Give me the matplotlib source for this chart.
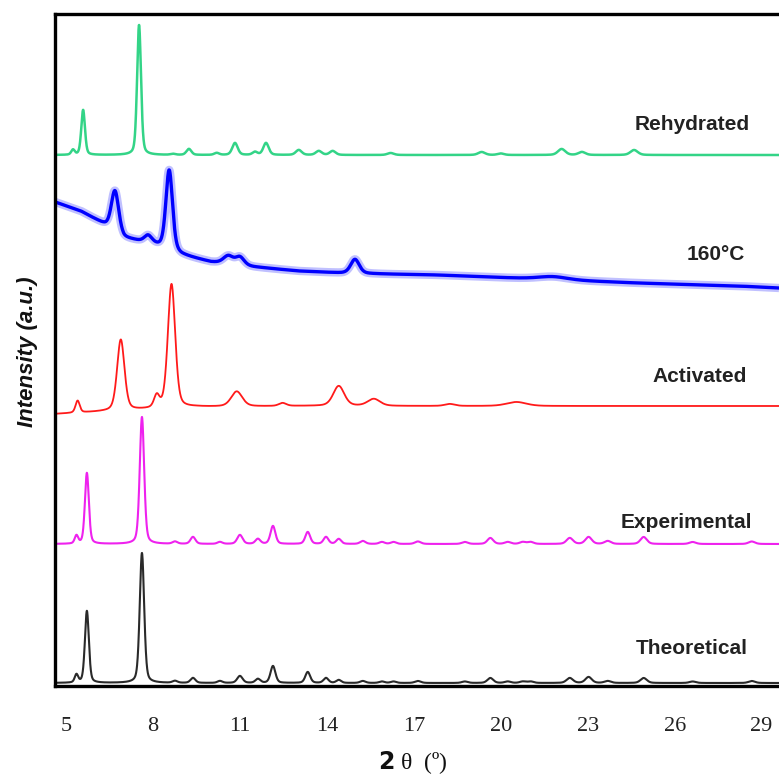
import numpy as np
import matplotlib
matplotlib.use("Agg")
import matplotlib.pyplot as plt

# 2-theta window (degrees)
x_min, x_max = 4.62, 29.6
x_ticks = [5, 8, 11, 14, 17, 20, 23, 26, 29]

# simulated pattern (peak positions, heights, widths) - experimental uses same reflections
theo_pos = [5.36, 5.72, 7.62, 8.76, 9.38, 10.31, 11.0, 11.62, 12.14, 13.34, 13.97, 14.41,
            15.24, 15.9, 16.3, 17.14, 18.76, 19.64, 20.24, 20.76, 21.03, 22.38, 23.03,
            23.69, 24.93, 26.62, 28.66]
theo_h = [8, 72, 130, 2, 5, 2, 7, 4, 17, 11, 5, 3,
          2, 1.5, 1.5, 2, 1.5, 5, 1.5, 1.5, 1.5, 5, 6,
          2, 5, 1.5, 2]
exp_h = [8, 71, 127, 2.3, 7, 2, 9, 5, 18, 12, 7, 5,
         3, 2, 2, 2.5, 2, 6, 2, 2, 2, 6, 7,
         3, 7, 2, 2.5]
theo_w = [0.14, 0.16, 0.18, 0.2, 0.2, 0.2, 0.22, 0.2, 0.2, 0.2, 0.2, 0.2,
          0.22, 0.22, 0.22, 0.24, 0.24, 0.24, 0.24, 0.24, 0.24, 0.26, 0.26,
          0.26, 0.26, 0.26, 0.26]
theo_base = 3
exp_base = 142

# activated sample
act_pos = [5.4, 6.89, 8.13, 8.64, 10.89, 12.47, 14.41, 15.62, 18.24, 20.54]
act_h = [12, 71, 12, 124, 15, 3, 20, 7, 2, 4]
act_w = [0.17, 0.3, 0.22, 0.3, 0.45, 0.3, 0.45, 0.5, 0.4, 0.8]
act_bg_x = [4.62, 6.0, 7.5, 9.5, 13.0, 16.0, 19.0, 22.0, 29.6]
act_bg_y = [272, 274, 276, 279, 280, 280, 280, 280, 280]

# heated at 160 C
hot_pos = [6.69, 7.83, 8.56, 10.6, 11.0, 14.97, 21.8]
hot_h = [41, 7, 80, 8, 8, 14, 3]
hot_w = [0.3, 0.3, 0.27, 0.4, 0.35, 0.35, 1.2]
hot_bg_x = [4.62, 5.5, 6.3, 7.0, 8.0, 9.0, 10.0, 11.5, 13.0, 14.5, 16.0, 17.8, 21.3, 24.7, 28.2, 29.6]
hot_bg_y = [484, 475, 462, 448, 442, 431, 424, 419, 415, 413, 412, 411, 407, 403, 400, 398]

# rehydrated sample
rehy_pos = [5.24, 5.59, 7.52, 8.69, 9.24, 10.2, 10.83, 11.52, 11.9, 13.03, 13.72, 14.2,
            16.2, 19.34, 20.0, 22.1, 22.8, 24.6]
rehy_h = [5, 45, 130, 1, 6, 2, 12, 3, 12, 5, 4, 4, 2, 3, 1.5, 6, 3, 5]
rehy_w = [0.14, 0.15, 0.16, 0.2, 0.2, 0.2, 0.22, 0.2, 0.22, 0.24, 0.24, 0.24,
          0.26, 0.28, 0.26, 0.3, 0.28, 0.3]
rehy_base = 531

labels = ["Rehydrated", "160°C", "Activated", "Experimental", "Theoretical"]
label_x = [28.59, 28.41, 28.48, 28.66, 28.52]
label_y = [561, 431, 310, 163, 37]


def pattern(x, pos, h, w, eta=0.35):
    y = np.zeros_like(x)
    for c, a, fw in zip(pos, h, w):
        d = 4 * (x - c) ** 2 / fw ** 2
        y += a * (eta / (1 + d) + (1 - eta) * np.exp(-np.log(2) * d))
    return y


x = np.linspace(x_min, x_max, 6000)

fig = plt.figure(figsize=(7.79, 7.81), dpi=100)
ax = fig.add_axes([55 / 779, 95 / 781, 1 - 55 / 779, 672 / 781])

ax.plot(x, theo_base + pattern(x, theo_pos, theo_h, theo_w), color="#2a2a2a", lw=1.5)
ax.plot(x, exp_base + pattern(x, theo_pos, exp_h, theo_w), color="#ee22ee", lw=1.5)
ax.plot(x, np.interp(x, act_bg_x, act_bg_y) + pattern(x, act_pos, act_h, act_w),
        color="#ff1a1a", lw=1.3)
hot = np.interp(x, hot_bg_x, hot_bg_y) + pattern(x, hot_pos, hot_h, hot_w)
ax.plot(x, hot, color="#3030ff", lw=6, alpha=0.3, solid_capstyle="butt")
ax.plot(x, hot, color="#0000ff", lw=2.4)
ax.plot(x, rehy_base + pattern(x, rehy_pos, rehy_h, rehy_w), color="#33d487", lw=1.8)

for t, lx, ly in zip(labels, label_x, label_y):
    ax.text(lx, ly, t, ha="right", va="center", fontsize=15, fontweight="bold",
            family="Liberation Sans", color="#222222")

ax.set_xlim(x_min, x_max)
ax.set_ylim(0, 672)
ax.set_xticks(x_ticks)
ax.set_xticklabels([str(v) for v in x_ticks], family="Liberation Serif", fontsize=16,
                   color="#222222")
ax.tick_params(axis="x", length=0, pad=22)
ax.set_yticks([])
for s in ["left", "top", "bottom"]:
    ax.spines[s].set_linewidth(2.4)
ax.spines["right"].set_visible(False)

fig.text(28 / 779, 1 - 352 / 781, "Intensity (a.u.)", rotation=90, ha="center", va="center",
         fontsize=16, fontstyle="italic", fontweight="bold", family="Liberation Sans",
         color="#111111")
fig.text(413 / 779, 1 - 763 / 781, r"$\mathbf{2}$ θ  (º)", ha="center", va="center",
         fontsize=17, family="Liberation Serif", color="#111111")

fig.savefig("out.png", dpi=100)
